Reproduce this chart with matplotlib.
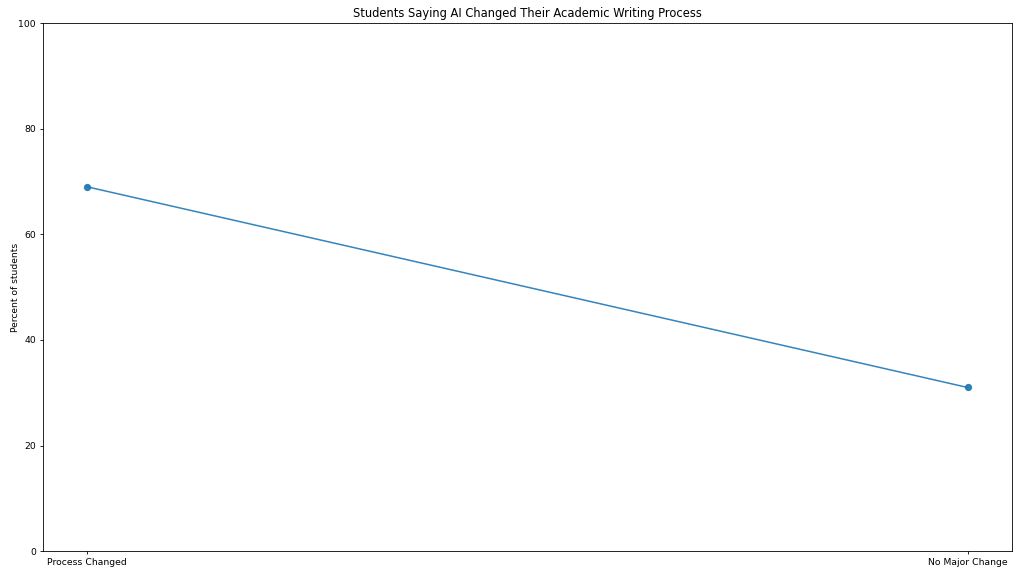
import matplotlib
matplotlib.use("Agg")
import matplotlib.pyplot as plt

categories = ["Process Changed", "No Major Change"]
percent_students = [69, 31]

fig, ax = plt.subplots(figsize=(10.24, 5.76), dpi=100)
fig.subplots_adjust(left=0.042, right=0.988, top=0.96, bottom=0.043)
ax.plot(categories, percent_students, marker="o", markersize=4.2, linewidth=1.1,
        color="#1f77b4", alpha=0.9)
ax.set_ylim(0, 100)
ax.set_title("Students Saying AI Changed Their Academic Writing Process", fontsize=8.3, pad=4)
ax.set_ylabel("Percent of students", fontsize=6.6, labelpad=-1)
ax.tick_params(labelsize=6.7, length=2.5, width=0.6, pad=2.5)
for s in ax.spines.values():
    s.set_linewidth(0.6)
fig.savefig("out.png", dpi=100)
